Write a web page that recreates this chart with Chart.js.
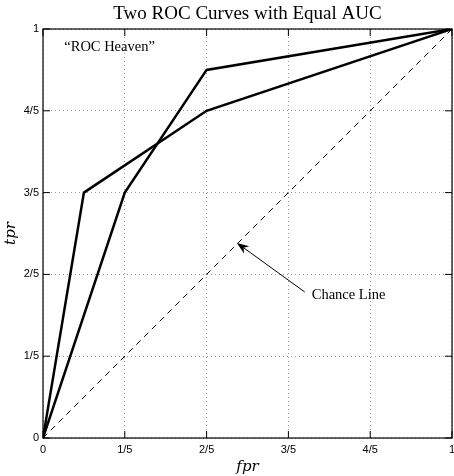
<!DOCTYPE html>
<html>
<head>
<meta charset="utf-8">
<script src="https://cdn.jsdelivr.net/npm/chart.js@4"></script>
<style>
html,body{margin:0;padding:0;background:#fff;}
#wrap{width:454px;height:476px;}
</style>
</head>
<body>
<div id="wrap"><canvas id="c" width="454" height="476"></canvas></div>
<script>
// ---- data ----
const tickValues = [0, 0.2, 0.4, 0.6, 0.8, 1];
const tickLabels = ['0', '1/5', '2/5', '3/5', '4/5', '1'];
const curveA_fpr = [0, 0.1, 0.4, 1];
const curveA_tpr = [0, 0.6, 0.8, 1];
const curveB_fpr = [0, 0.2, 0.4, 1];
const curveB_tpr = [0, 0.6, 0.9, 1];
const chance_fpr = [0, 1];
const chance_tpr = [0, 1];
const titleText = 'Two ROC Curves with Equal AUC';
const xTitle = 'fpr';
const yTitle = 'tpr';
const heavenText = '\u201CROC Heaven\u201D';
const heavenAt = [0.052, 0.955];
const chanceText = 'Chance Line';
const chanceTextAt = [0.657, 0.35];
const arrowFrom = [0.64, 0.357];
const arrowTo = [0.474, 0.477];

const pts = (xs, ys) => xs.map((x, i) => ({x: x, y: ys[i]}));

const boxPlugin = {
  id: 'boxPlugin',
  afterDraw(chart) {
    const ctx = chart.ctx;
    const a = chart.chartArea;
    const xs = chart.scales.x, ys = chart.scales.y;
    ctx.save();
    ctx.strokeStyle = '#000';
    ctx.lineWidth = 1.2;
    ctx.strokeRect(a.left, a.top, a.right - a.left, a.bottom - a.top);
    const tl = 7;
    ctx.lineWidth = 1;
    ctx.beginPath();
    tickValues.forEach(v => {
      const px = xs.getPixelForValue(v);
      ctx.moveTo(px, a.bottom); ctx.lineTo(px, a.bottom - tl);
      ctx.moveTo(px, a.top); ctx.lineTo(px, a.top + tl);
      const py = ys.getPixelForValue(v);
      ctx.moveTo(a.left, py); ctx.lineTo(a.left + tl, py);
      ctx.moveTo(a.right, py); ctx.lineTo(a.right - tl, py);
    });
    ctx.stroke();
    // annotations
    ctx.fillStyle = '#000';
    ctx.font = '14.5px "Liberation Serif", serif';
    ctx.textBaseline = 'middle';
    ctx.textAlign = 'left';
    ctx.fillText(heavenText, xs.getPixelForValue(heavenAt[0]), ys.getPixelForValue(heavenAt[1]));
    ctx.fillText(chanceText, xs.getPixelForValue(chanceTextAt[0]), ys.getPixelForValue(chanceTextAt[1]));
    // arrow
    const x0 = xs.getPixelForValue(arrowFrom[0]), y0 = ys.getPixelForValue(arrowFrom[1]);
    const x1 = xs.getPixelForValue(arrowTo[0]), y1 = ys.getPixelForValue(arrowTo[1]);
    const ang = Math.atan2(y1 - y0, x1 - x0);
    const hl = 12, hw = 4.5;
    ctx.lineWidth = 1;
    ctx.beginPath();
    ctx.moveTo(x0, y0);
    ctx.lineTo(x1 - hl * 0.7 * Math.cos(ang), y1 - hl * 0.7 * Math.sin(ang));
    ctx.stroke();
    ctx.beginPath();
    ctx.moveTo(x1, y1);
    ctx.lineTo(x1 - hl * Math.cos(ang) + hw * Math.sin(ang), y1 - hl * Math.sin(ang) - hw * Math.cos(ang));
    ctx.lineTo(x1 - hl * 0.7 * Math.cos(ang), y1 - hl * 0.7 * Math.sin(ang));
    ctx.lineTo(x1 - hl * Math.cos(ang) - hw * Math.sin(ang), y1 - hl * Math.sin(ang) + hw * Math.cos(ang));
    ctx.closePath();
    ctx.fill();
    ctx.restore();
  }
};

const setTicks = scale => { scale.ticks = tickValues.map(v => ({value: v})); };
const gridOpts = {color: '#9a9a9a', lineWidth: 1, drawTicks: false};

new Chart(document.getElementById('c'), {
  type: 'scatter',
  data: {
    datasets: [
      {data: pts(chance_fpr, chance_tpr), showLine: true, borderColor: '#000', borderWidth: 1, borderDash: [6, 5], pointRadius: 0, fill: false},
      {data: pts(curveA_fpr, curveA_tpr), showLine: true, borderColor: '#000', borderWidth: 2.5, pointRadius: 0, fill: false, borderJoinStyle: 'miter'},
      {data: pts(curveB_fpr, curveB_tpr), showLine: true, borderColor: '#000', borderWidth: 2.5, pointRadius: 0, fill: false, borderJoinStyle: 'miter'}
    ]
  },
  options: {
    responsive: false,
    animation: false,
    devicePixelRatio: 1,
    layout: {padding: {left: 0, right: 2, top: 0, bottom: 0}},
    plugins: {
      legend: {display: false},
      tooltip: {enabled: false},
      title: {display: true, fullSize: false, text: titleText, color: '#000', font: {family: '"Liberation Serif", serif', size: 19, weight: 'normal', lineHeight: 1.2}, padding: {top: 2.5, bottom: 3.7}}
    },
    scales: {
      x: {
        type: 'linear', min: 0, max: 1,
        afterBuildTicks: setTicks,
        afterFit: s => { s.height = 38; s.paddingLeft = 0; s.paddingRight = 0; },
        grid: Object.assign({}, gridOpts),
        border: {display: false, dash: [1, 3]},
        ticks: {color: '#000', padding: 5, maxRotation: 0, autoSkip: false, font: {family: '"Liberation Sans", sans-serif', size: 11}, callback: (v, i) => tickLabels[i]},
        title: {display: true, text: xTitle, color: '#000', font: {family: '"DejaVu Serif", serif', size: 15, style: 'italic'}, padding: {top: 0, bottom: 0}}
      },
      y: {
        type: 'linear', min: 0, max: 1,
        afterBuildTicks: setTicks,
        afterFit: s => { s.width = 43; s.paddingTop = 0; s.paddingBottom = 0; },
        grid: Object.assign({}, gridOpts),
        border: {display: false, dash: [1, 3]},
        ticks: {color: '#000', padding: 4, autoSkip: false, font: {family: '"Liberation Sans", sans-serif', size: 11}, callback: (v, i) => tickLabels[i]},
        title: {display: true, text: yTitle, color: '#000', font: {family: '"DejaVu Serif", serif', size: 15, style: 'italic'}, padding: {top: 2, bottom: 0}}
      }
    }
  },
  plugins: [boxPlugin]
});
</script>
</body>
</html>
